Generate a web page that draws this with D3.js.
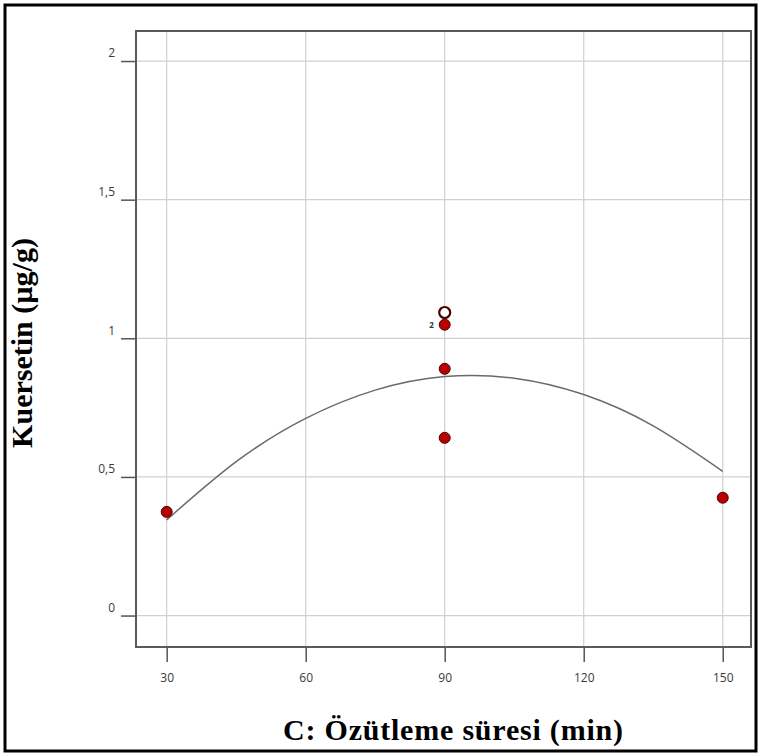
<!DOCTYPE html>
<html>
<head>
<meta charset="utf-8">
<script src="https://cdn.jsdelivr.net/npm/d3@7"></script>
<style>
  body{margin:0;background:#fff;}
  .tick text{font-family:"Open Sans",sans-serif;font-size:12px;fill:#3a3a3a;}
  .ttl{font-family:"Liberation Serif",serif;font-weight:bold;font-size:30px;fill:#000;}
</style>
</head>
<body>
<svg id="chart"></svg>
<script>
let width = 761, height = 755;
// datos
const xTicks = [30,60,90,120,150];
const yTicks = [0,0.5,1,1.5,2];
const ptsX = [30,150,90,90,90];
const ptsY = [0.374,0.425,0.641,0.89,1.049];
const openX = [90], openY = [1.093];
const curveX = [30,45,60,75,90,105,120,135,150];
const curveY = [0.345,0.555,0.711,0.813,0.862,0.856,0.797,0.684,0.52];

const mLeft=136, mRight=751, mTop=31, mBottom=647;
const x = d3.scaleLinear().domain([23.38,156.1]).range([mLeft,mRight]);
const y = d3.scaleLinear().domain([-0.1134,2.1083]).range([mBottom,mTop]);

const svg = d3.select('#chart').attr('width',width).attr('height',height);
svg.append('rect').attr('x',5).attr('y',5).attr('width',751).attr('height',746)
  .attr('fill','#fff').attr('stroke','#000').attr('stroke-width',3);

// grilla
svg.selectAll('.gx').data(xTicks).join('line').classed('gx',true)
  .attr('x1',d=>x(d)).attr('x2',d=>x(d)).attr('y1',mTop).attr('y2',mBottom)
  .attr('stroke','#d0d0d0').attr('stroke-width',1.2);
svg.selectAll('.gy').data(yTicks).join('line').classed('gy',true)
  .attr('y1',d=>y(d)).attr('y2',d=>y(d)).attr('x1',mLeft).attr('x2',mRight)
  .attr('stroke','#d0d0d0').attr('stroke-width',1.2);

// ejes
const fmt = d=>String(d).replace('.',',');
const ax = svg.append('g').attr('transform',`translate(0,${mBottom})`)
  .call(d3.axisBottom(x).tickValues(xTicks).tickSize(15).tickPadding(11).tickFormat(fmt));
const ay = svg.append('g').attr('transform',`translate(${mLeft},0)`)
  .call(d3.axisLeft(y).tickValues(yTicks).tickSize(15).tickPadding(6).tickFormat(fmt));
[ax,ay].forEach(g=>{
  g.select('.domain').remove();
  g.selectAll('.tick line').attr('stroke','#555').attr('stroke-width',1.5);
});
ay.selectAll('.tick text').attr('dy','-0.35em');

svg.append('rect').attr('x',mLeft).attr('y',mTop).attr('width',mRight-mLeft).attr('height',mBottom-mTop)
  .attr('fill','none').attr('stroke','#5a5a5a').attr('stroke-width',2);

// curva
const line = d3.line().x(d=>x(d[0])).y(d=>y(d[1])).curve(d3.curveNatural);
svg.append('path').datum(d3.zip(curveX,curveY)).attr('d',line)
  .attr('fill','none').attr('stroke','#6a6a6a').attr('stroke-width',1.5);

// puntos
svg.selectAll('.pt').data(d3.zip(ptsX,ptsY)).join('circle').classed('pt',true)
  .attr('cx',d=>x(d[0])).attr('cy',d=>y(d[1])).attr('r',5.5)
  .attr('fill','#b80000').attr('stroke','#4a0000').attr('stroke-width',1);
svg.selectAll('.op').data(d3.zip(openX,openY)).join('circle').classed('op',true)
  .attr('cx',d=>x(d[0])).attr('cy',d=>y(d[1])).attr('r',5.5)
  .attr('fill','#fff').attr('stroke','#4a0000').attr('stroke-width',2.2);
svg.append('text').attr('x',x(90)-11).attr('y',y(1.049)+3)
  .attr('text-anchor','end').attr('font-family','Open Sans,sans-serif')
  .attr('font-size',8).attr('font-weight','bold').attr('fill','#333').text('2');

// titulos
svg.append('text').classed('ttl',true).attr('x',453).attr('y',740)
  .attr('text-anchor','middle').attr('textLength',340).attr('lengthAdjust','spacing')
  .text('C: Özütleme süresi (min)');
svg.append('text').classed('ttl',true)
  .attr('transform',`translate(32,343) rotate(-90)`)
  .attr('text-anchor','middle').text('Kuersetin (µg/g)');
</script>
</body>
</html>
